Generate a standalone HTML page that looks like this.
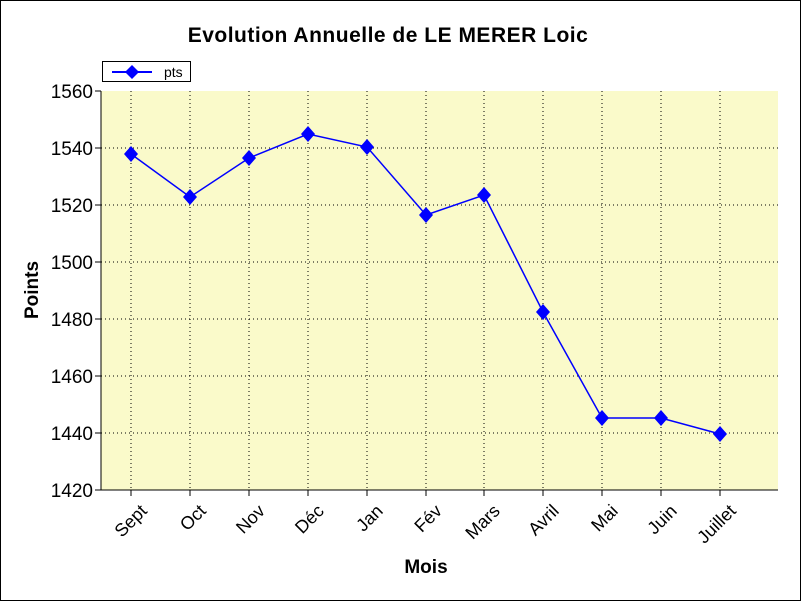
<!DOCTYPE html><html><head><style>body{margin:0;background:#fff}</style></head><body>
<svg width="801" height="601" xmlns="http://www.w3.org/2000/svg" font-family="Liberation Sans, Arial, sans-serif">
<rect x="0.5" y="0.5" width="800" height="600" fill="#fff" stroke="#000"/>
<text x="388" y="42" text-anchor="middle" font-size="21" font-weight="bold" letter-spacing="0.5">Evolution Annuelle de LE MERER Loic</text>
<rect x="101" y="91" width="677" height="399" fill="#fafaca"/>
<g stroke="#000" stroke-dasharray="1,3" stroke-width="1">
<path d="M101 148H778M101 205H778M101 262H778M101 319H778M101 376H778M101 433H778"/>
<path d="M131 91V490M190 91V490M249 91V490M308 91V490M367 91V490M426 91V490M484 91V490M543 91V490M602 91V490M661 91V490M720 91V490"/>
</g>
<path d="M101 91V490H778" fill="none" stroke="#000"/>
<g stroke="#000"><path d="M95 91H101M95 148H101M95 205H101M95 262H101M95 319H101M95 376H101M95 433H101M95 490H101"/>
<path d="M131 490V496M190 490V496M249 490V496M308 490V496M367 490V496M426 490V496M484 490V496M543 490V496M602 490V496M661 490V496M720 490V496"/></g>
<g font-size="19" text-anchor="end">
<text x="93" y="98">1560</text><text x="93" y="155">1540</text><text x="93" y="212">1520</text><text x="93" y="269">1500</text><text x="93" y="326">1480</text><text x="93" y="383">1460</text><text x="93" y="440">1440</text><text x="93" y="497">1420</text></g>
<g font-size="18" text-anchor="end">
<text transform="translate(148,512) rotate(-45)">Sept</text>
<text transform="translate(207,512) rotate(-45)">Oct</text>
<text transform="translate(266,512) rotate(-45)">Nov</text>
<text transform="translate(325,512) rotate(-45)">Déc</text>
<text transform="translate(384,512) rotate(-45)">Jan</text>
<text transform="translate(443,512) rotate(-45)">Fév</text>
<text transform="translate(501,512) rotate(-45)">Mars</text>
<text transform="translate(560,512) rotate(-45)">Avril</text>
<text transform="translate(619,512) rotate(-45)">Mai</text>
<text transform="translate(678,512) rotate(-45)">Juin</text>
<text transform="translate(737,512) rotate(-45)">Juillet</text></g>
<text x="426" y="573" text-anchor="middle" font-size="19" font-weight="bold">Mois</text>
<text transform="translate(38,290) rotate(-90)" text-anchor="middle" font-size="19" font-weight="bold">Points</text>
<polyline fill="none" stroke="#0000ff" stroke-width="1.5" points="131,154 190,197 249,158 308,134 367,147 426,215 484,195 543,312 602,418 661,418 720,434"/>
<g fill="#0000ff">
<path d="M131 146l7 8-7 8-7-8z"/><path d="M190 189l7 8-7 8-7-8z"/><path d="M249 150l7 8-7 8-7-8z"/><path d="M308 126l7 8-7 8-7-8z"/><path d="M367 139l7 8-7 8-7-8z"/><path d="M426 207l7 8-7 8-7-8z"/><path d="M484 187l7 8-7 8-7-8z"/><path d="M543 304l7 8-7 8-7-8z"/><path d="M602 410l7 8-7 8-7-8z"/><path d="M661 410l7 8-7 8-7-8z"/><path d="M720 426l7 8-7 8-7-8z"/>
</g>
<rect x="102.5" y="61.5" width="88" height="20" fill="#fff" stroke="#000"/>
<path d="M112 72H152" stroke="#0000ff" stroke-width="2"/>
<path d="M132 65l7 7-7 7-7-7z" fill="#0000ff"/>
<text x="164" y="77" font-size="14">pts</text>
</svg></body></html>
